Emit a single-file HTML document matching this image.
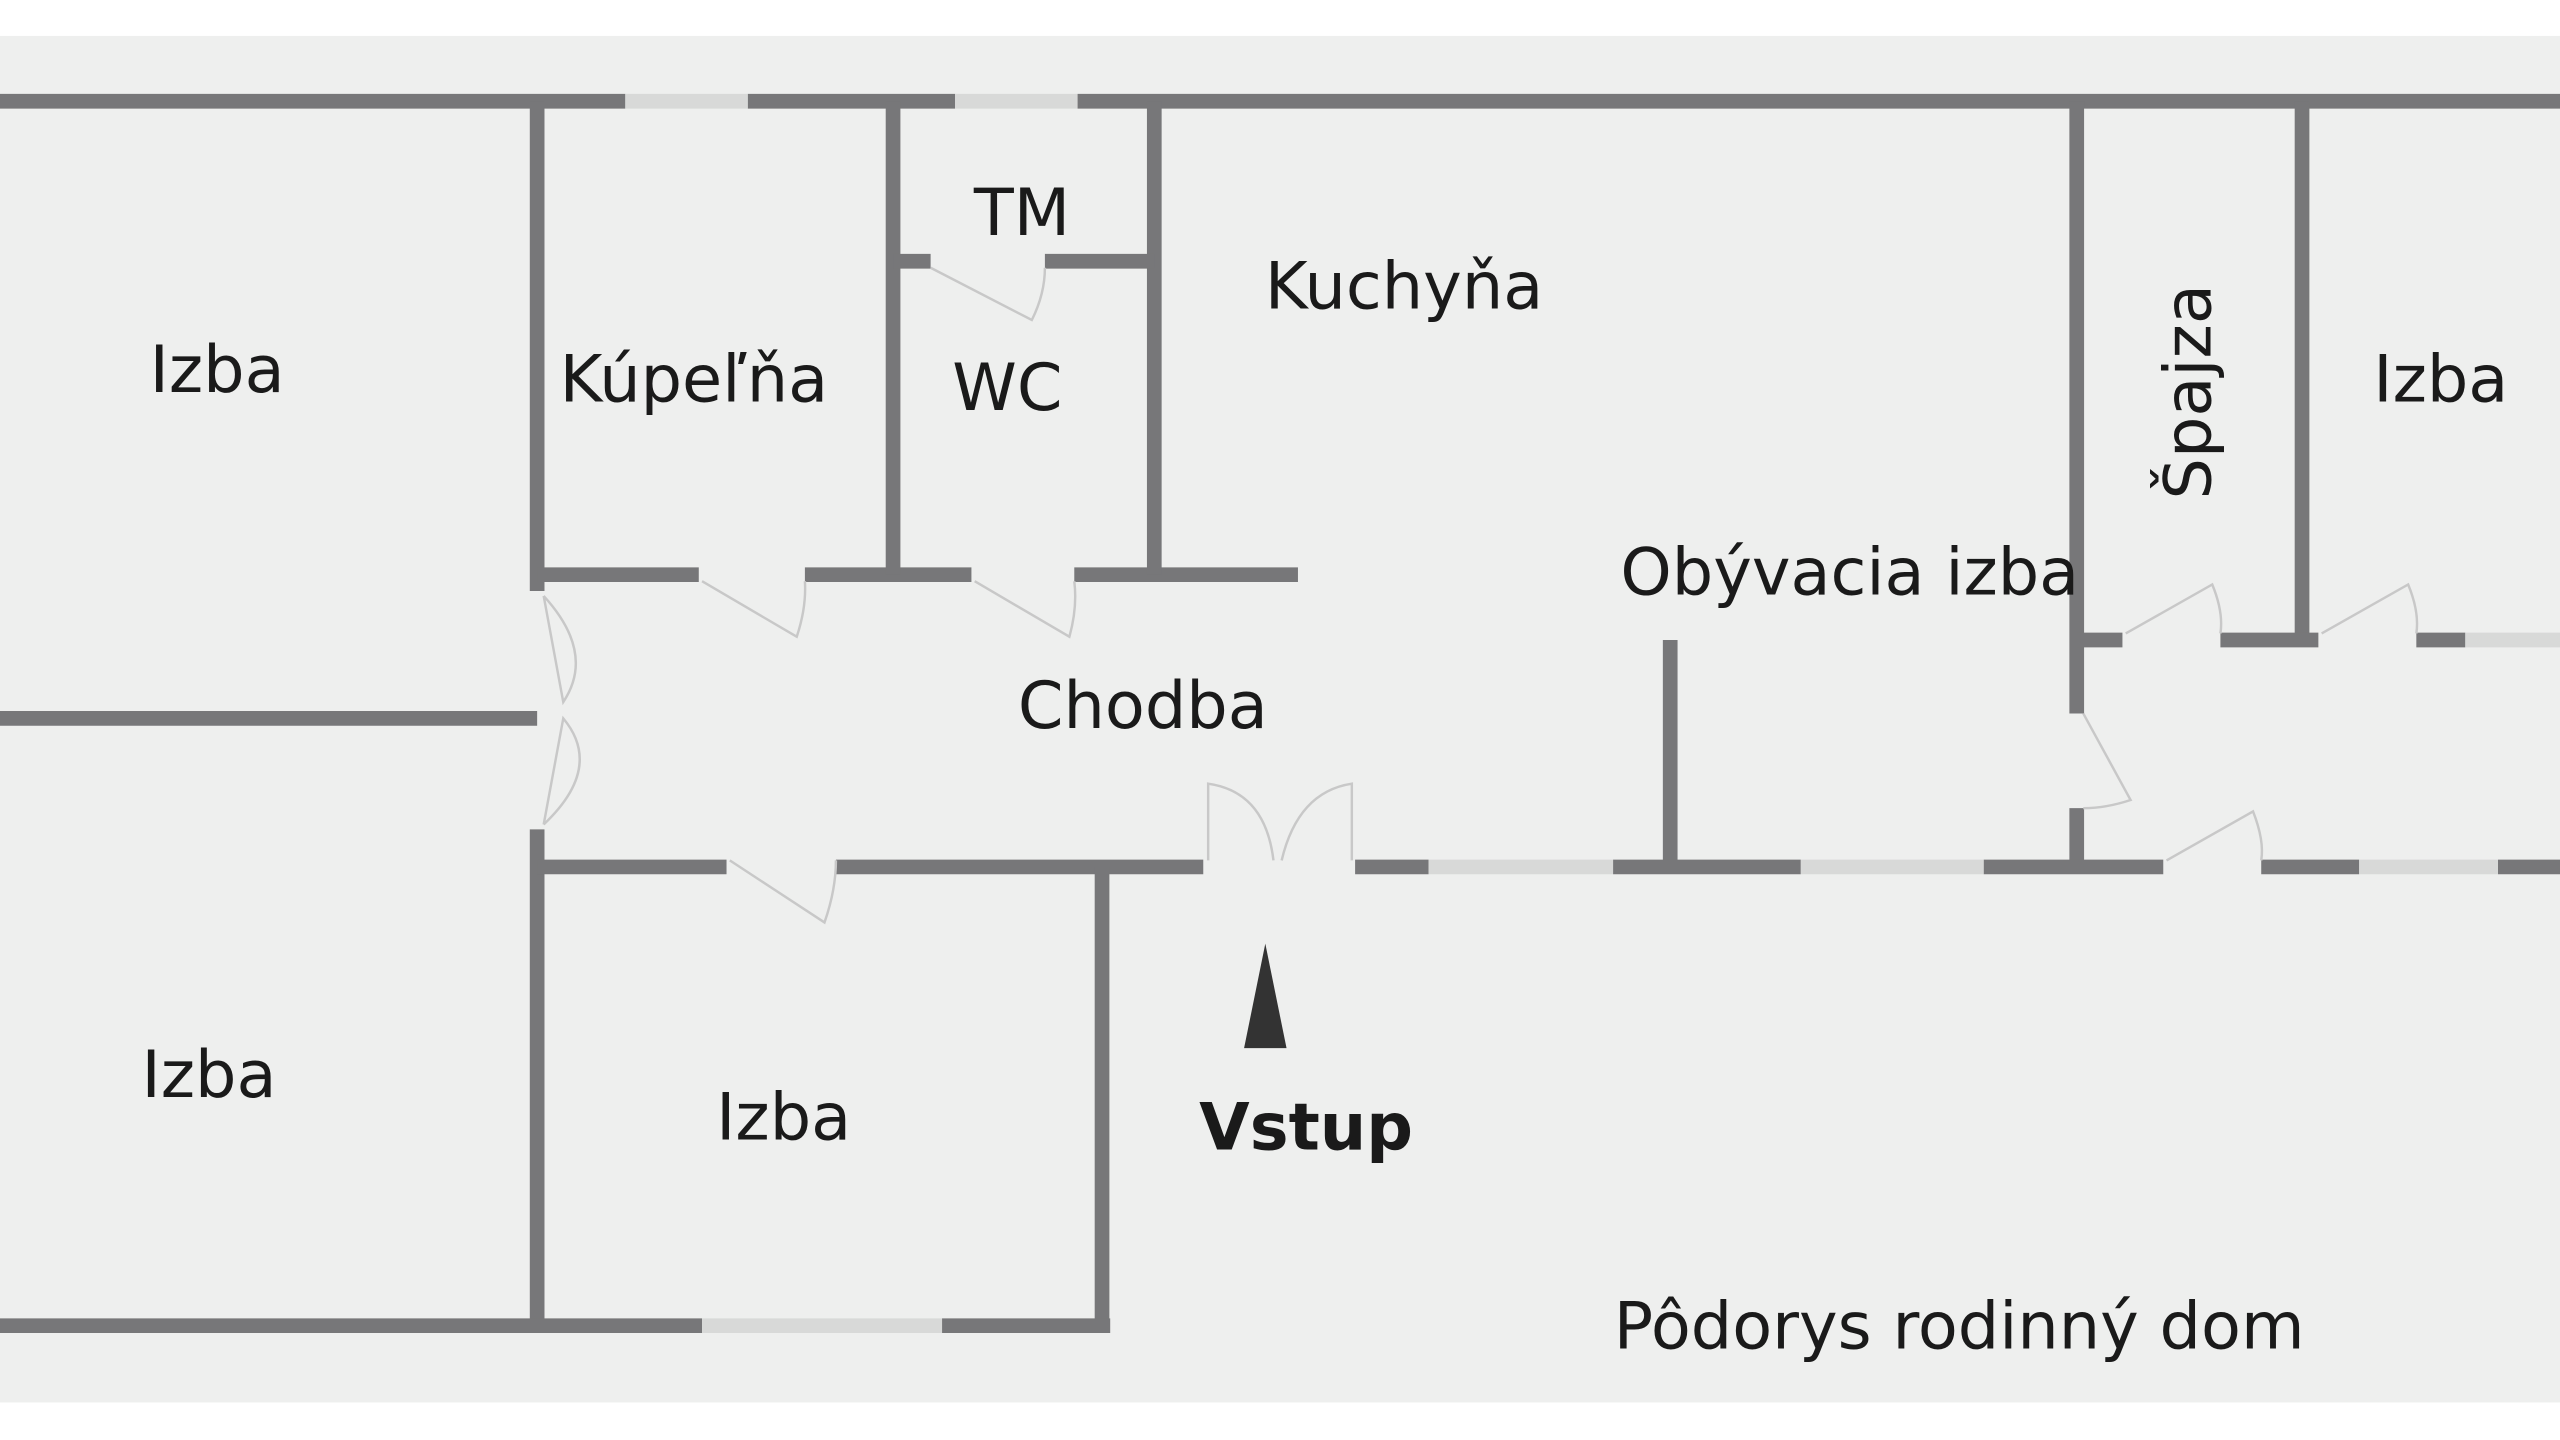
<!DOCTYPE html>
<html><head><meta charset="utf-8"><style>
html,body{margin:0;padding:0;background:#fff;width:2560px;height:1440px;overflow:hidden}
svg{display:block}
text{font-family:"DejaVu Sans","Liberation Sans",sans-serif;fill:#1a1a1a}
</style></head><body>
<svg width="2560" height="1440" viewBox="0 0 1568 882" preserveAspectRatio="none">
<rect x="0" y="22" width="1568" height="837" fill="#eeefee"/>
<g stroke="#777779" stroke-width="9" fill="none" stroke-linecap="butt">
<!-- top wall -->
<line x1="0" y1="62" x2="383" y2="62"/><line x1="458" y1="62" x2="585" y2="62"/><line x1="660" y1="62" x2="1568" y2="62"/>
<!-- x=329 -->
<line x1="329" y1="62" x2="329" y2="362"/><line x1="329" y1="508" x2="329" y2="812"/>
<line x1="0" y1="440" x2="329" y2="440"/>
<!-- y=352 -->
<line x1="329" y1="352" x2="428" y2="352"/><line x1="493" y1="352" x2="595" y2="352"/><line x1="658" y1="352" x2="795" y2="352"/>
<line x1="547" y1="62" x2="547" y2="352"/><line x1="707" y1="62" x2="707" y2="352"/>
<line x1="547" y1="160" x2="570" y2="160"/><line x1="640" y1="160" x2="707" y2="160"/>
<!-- right -->
<line x1="1272" y1="62" x2="1272" y2="437"/><line x1="1272" y1="495" x2="1272" y2="531"/>
<line x1="1410" y1="62" x2="1410" y2="392"/>
<line x1="1272" y1="392" x2="1300" y2="392"/><line x1="1360" y1="392" x2="1420" y2="392"/><line x1="1480" y1="392" x2="1510" y2="392"/>
<line x1="1023" y1="392" x2="1023" y2="531"/>
<!-- y=531 -->
<line x1="329" y1="531" x2="445" y2="531"/><line x1="512" y1="531" x2="737" y2="531"/><line x1="830" y1="531" x2="875" y2="531"/>
<line x1="988" y1="531" x2="1103" y2="531"/><line x1="1215" y1="531" x2="1325" y2="531"/><line x1="1385" y1="531" x2="1445" y2="531"/><line x1="1530" y1="531" x2="1568" y2="531"/>
<line x1="675" y1="531" x2="675" y2="816"/>
<line x1="0" y1="812" x2="430" y2="812"/><line x1="577" y1="812" x2="680" y2="812"/>
</g>
<g stroke="#d8d9d8" stroke-width="9">
<line x1="383" y1="62" x2="458" y2="62"/><line x1="585" y1="62" x2="660" y2="62"/>
<line x1="875" y1="531" x2="988" y2="531"/><line x1="1103" y1="531" x2="1215" y2="531"/><line x1="1445" y1="531" x2="1530" y2="531"/>
<line x1="1510" y1="392" x2="1568" y2="392"/><line x1="430" y1="812" x2="577" y2="812"/>
</g>
<g stroke="#c8c8c8" stroke-width="1.5" fill="none">
<path d="M570 164 L632 196 Q640 180 640 164"/>
<path d="M430 356 L488 390 Q494 372 493 356"/>
<path d="M597 356 L655 390 Q660 372 658 356"/>
<path d="M333 365 L345 430 Q365 400 333 365"/>
<path d="M333 505 L345 440 Q370 470 333 505"/>
<path d="M447 527 L505 565 Q512 545 512 527"/>
<path d="M740 527 L740 480 Q775 485 780 527"/>
<path d="M828 527 L828 480 Q795 485 785 527"/>
<path d="M1276 437 L1305 490 Q1290 495 1276 495"/>
<path d="M1302 388 L1355 358 Q1362 375 1360 388"/>
<path d="M1422 388 L1475 358 Q1482 375 1480 388"/>
<path d="M1327 527 L1380 497 Q1387 515 1385 527"/>
</g>
<polygon points="775,578 762,642 788,642" fill="#333"/>
<g font-size="40">
<text x="133" y="240" text-anchor="middle">Izba</text>
<text x="425" y="246" text-anchor="middle">Kúpeľňa</text>
<text x="626" y="144" text-anchor="middle">TM</text>
<text x="617" y="251" text-anchor="middle">WC</text>
<text x="860" y="189" text-anchor="middle">Kuchyňa</text>
<text x="1495" y="246" text-anchor="middle">Izba</text>
<text x="1133" y="364" text-anchor="middle">Obývacia izba</text>
<text x="700" y="446" text-anchor="middle">Chodba</text>
<text x="128" y="672" text-anchor="middle">Izba</text>
<text x="480" y="698" text-anchor="middle">Izba</text>
<text x="800" y="704" text-anchor="middle" font-weight="bold">Vstup</text>
<text x="1200" y="826" text-anchor="middle">Pôdorys rodinný dom</text>
<text x="0" y="0" text-anchor="middle" transform="translate(1354,240) rotate(-90)">Špajza</text>
</g>
</svg>
</body></html>
